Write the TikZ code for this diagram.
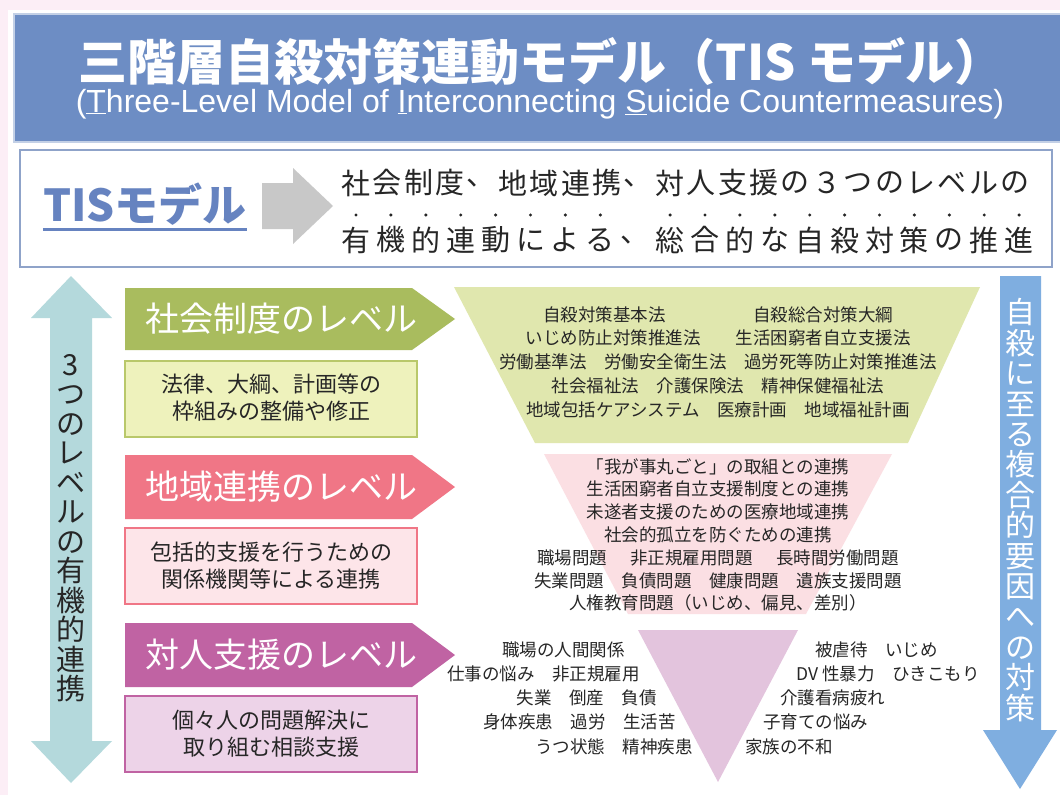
\documentclass[tikz,border=0pt]{standalone}
\usepackage{fontspec}
\setmainfont{Noto Sans CJK JP}
\newfontfamily\latinf{Liberation Sans}
\definecolor{pagebg}{HTML}{FCEEF6}
\definecolor{titlefill}{HTML}{6D8DC4}
\definecolor{titleline}{HTML}{C3D0E6}
\definecolor{tisborder}{HTML}{8FA3C9}
\definecolor{tisblue}{HTML}{6683C0}
\definecolor{greyarrow}{HTML}{C8C8C8}
\definecolor{leftarrow}{HTML}{B4D9DC}
\definecolor{rightarrow}{HTML}{7FAEE0}
\definecolor{greenhdr}{HTML}{A9BC5E}
\definecolor{greensub}{HTML}{EEF2BC}
\definecolor{greenline}{HTML}{B9C86A}
\definecolor{greentri}{HTML}{E0E7AE}
\definecolor{pinkhdr}{HTML}{F07686}
\definecolor{pinksub}{HTML}{FDE5E9}
\definecolor{pinktri}{HTML}{FBDFE3}
\definecolor{maghdr}{HTML}{C063A3}
\definecolor{magsub}{HTML}{EDD3E8}
\definecolor{magtri}{HTML}{E3C4DD}
\definecolor{textdark}{HTML}{262626}
\tikzset{
  tisch/.style={font=\fontsize{29}{29}\selectfont, text=textdark, inner sep=0pt},
  hdrtext/.style={font=\fontsize{34}{34}\selectfont, text=white, inner sep=0pt},
  subtext/.style={font=\fontsize{22}{27}\selectfont, text=textdark, align=center, inner sep=0pt},
  tritext/.style={font=\fontsize{17.5}{23.8}\selectfont, text=textdark, align=center, inner sep=0pt},
  sidetext/.style={font=\fontsize{17.5}{18}\selectfont, text=textdark, inner sep=0pt},
  subbox/.style={line width=2pt},
}
\begin{document}
\begin{tikzpicture}[x=1pt,y=-1pt]
\useasboundingbox (0,0) rectangle (1060,795);
\fill[pagebg] (0,0) rectangle (1060,795);
\fill[white] (8,10) rectangle (1060,795);

% title
\draw[fill=titlefill, draw=titleline, line width=1.5pt] (14,14) rectangle (1062,142);
\node[font=\bfseries\fontsize{49}{50}\selectfont, text=white, inner sep=0pt] (title) at (541,62) {三階層自殺対策連動モデル（TIS モデル）};
\node[font=\latinf\fontsize{32}{34}\selectfont, text=white, inner sep=0pt] (subtitle) at (540,104) {(\underline{T}hree-Level Model of \underline{I}nterconnecting \underline{S}uicide Countermeasures)};

% TIS box
\draw[draw=tisborder, line width=2pt, fill=white] (20,150) rectangle (1052,267);
\node[font=\bfseries\fontsize{44}{44}\selectfont, text=tisblue, inner sep=0pt] (tis) at (145,204) {TISモデル};
\draw[tisblue, line width=3pt] ([yshift=-4pt]tis.south west) -- ([yshift=-4pt]tis.south east);
\fill[greyarrow] (262,183) -- (293,183) -- (293,168) -- (333,206) -- (293,244) -- (293,229) -- (262,229) -- cycle;
\foreach \c [count=\i from 0] in {社,会,制,度,、,地,域,連,携,、,対,人,支,援,の,３,つ,の,レ,ベ,ル,の}
  \node[tisch] (la\i) at ({355.7+31.4*\i},183) {\c};
\foreach \c [count=\i from 0] in {有,機,的,連,動,に,よ,る,、,総,合,的,な,自,殺,対,策,の,推,進}
  \node[tisch] (lb\i) at ({356+34.9*\i},240) {\c};
\foreach \i in {0,1,2,3,4,5,6,7,9,10,11,12,13,14,15,16,17,18,19}
  \fill[textdark] ({356+34.9*\i},215) circle (1.7pt);

% left double arrow
\fill[leftarrow] (71,276) -- (112,318) -- (92,318) -- (92,741) -- (112,741) -- (71,783) -- (31,741) -- (50,741) -- (50,318) -- (31,318) -- cycle;
\node[font=\fontsize{29}{29.5}\selectfont, text=textdark, align=center, inner sep=0pt] (lefttext) at (71,528)
  {3\\つ\\の\\レ\\ベ\\ル\\の\\有\\機\\的\\連\\携};

% right down arrow
\fill[rightarrow] (1000,276) -- (1041,276) -- (1041,730) -- (1057,730) -- (1020,789) -- (983,730) -- (1000,730) -- cycle;
\node[font=\fontsize{30}{30.4}\selectfont, text=white, align=center, inner sep=0pt] (righttext) at (1020,510)
  {自\\殺\\に\\至\\る\\複\\合\\的\\要\\因\\へ\\の\\対\\策};

% level 1
\fill[greenhdr] (125,288) -- (412,288) -- (455,319) -- (412,350) -- (125,350) -- cycle;
\node[hdrtext] (h1) at (281,319) {社会制度のレベル};
\draw[subbox, draw=greenline, fill=greensub] (125,361) rectangle (417,437);
\node[subtext] (s1) at (271,398) {法律、大綱、計画等の\\枠組みの整備や修正};
\fill[greentri] (454,287) -- (980,287) -- (908,443) -- (535,443) -- cycle;
\node[tritext] (t1) at (718,362) {自殺対策基本法　　　　　自殺総合対策大綱\\
いじめ防止対策推進法　　生活困窮者自立支援法\\
労働基準法　労働安全衛生法　過労死等防止対策推進法\\
社会福祉法　介護保険法　精神保健福祉法\\
地域包括ケアシステム　医療計画　地域福祉計画};

% level 2
\fill[pinkhdr] (125,455) -- (412,455) -- (455,487) -- (412,519) -- (125,519) -- cycle;
\node[hdrtext] (h2) at (281,487) {地域連携のレベル};
\draw[subbox, draw=pinkhdr, fill=pinksub] (125,528) rectangle (417,604);
\node[subtext] (s2) at (271,566) {包括的支援を行うための\\関係機関等による連携};
\fill[pinktri] (544,454) -- (892,454) -- (806,614) -- (628,614) -- cycle;
\node[tritext, font=\fontsize{17.5}{22.8}\selectfont] (t2) at (718,535) {「我が事丸ごと」の取組との連携\\
生活困窮者自立支援制度との連携\\
未遂者支援のための医療地域連携\\
社会的孤立を防ぐための連携\\
職場問題　\hspace{6pt}非正規雇用問題　\hspace{6pt}長時間労働問題\\
失業問題　負債問題　健康問題　遺族支援問題\\
人権教育問題（いじめ、偏見、差別）};

% level 3
\fill[maghdr] (125,623) -- (412,623) -- (455,655) -- (412,687) -- (125,687) -- cycle;
\node[hdrtext] (h3) at (281,655) {対人支援のレベル};
\draw[subbox, draw=maghdr, fill=magsub] (125,696) rectangle (417,772);
\node[subtext] (s3) at (271,734) {個々人の問題解決に\\取り組む相談支援};
\fill[magtri] (638,630) -- (798,630) -- (718,782) -- cycle;

\node[sidetext, anchor=east] (p1) at (625,650) {職場の人間関係};
\node[sidetext, anchor=east] (p2) at (640,674) {仕事の悩み　非正規雇用};
\node[sidetext, anchor=east] (p3) at (657,698) {失業　倒産　負債};
\node[sidetext, anchor=east] (p4) at (676,722) {身体疾患　過労　生活苦};
\node[sidetext, anchor=east] (p5) at (693,747) {うつ状態　精神疾患};
\node[sidetext, anchor=west] (q1) at (815,650) {被虐待　いじめ};
\node[sidetext, anchor=west] (q2) at (796,674) {DV 性暴力　ひきこもり};
\node[sidetext, anchor=west] (q3) at (780,698) {介護看病疲れ};
\node[sidetext, anchor=west] (q4) at (763,722) {子育ての悩み};
\node[sidetext, anchor=west] (q5) at (745,747) {家族の不和};
\end{tikzpicture}
\end{document}
